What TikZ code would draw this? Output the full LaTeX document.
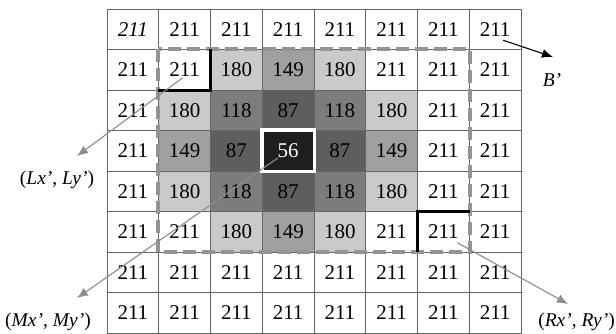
\documentclass[tikz,border=0pt]{standalone}
\usepackage{fontspec}
\setmainfont{Liberation Serif}
\usetikzlibrary{arrows.meta}
\definecolor{g211}{RGB}{255,255,255}
\definecolor{g180}{RGB}{202,202,202}
\definecolor{g149}{RGB}{160,160,160}
\definecolor{g118}{RGB}{124,124,124}
\definecolor{g87}{RGB}{94,94,94}
\definecolor{g56}{RGB}{30,30,30}
\definecolor{pointer}{RGB}{140,140,140}

\begin{document}
\begin{tikzpicture}[x=1pt, y=-1pt,
    cell/.style={draw=black!60, line width=0.9pt, minimum width=51.75pt, minimum height=40.5pt, inner sep=0pt, font=\fontsize{21}{23}\selectfont},
    hl00/.style={font=\fontsize{21}{23}\selectfont\itshape},
    hl33/.style={text=white},
    window/.style={draw=black!42, line width=4pt, dash pattern=on 13pt off 6pt},
    corner/.style={draw=black, line width=3pt},
    tag/.style={inner sep=0pt, font=\fontsize{19.5}{21}\selectfont},
    pointer/.style={draw=pointer, line width=1.1pt, -{Latex[length=11pt,width=9pt]}}]
    \useasboundingbox (0,0) rectangle (616,333);

    % image block
    \foreach \vals [count=\r from 0] in {
        {211,211,211,211,211,211,211,211},
        {211,211,180,149,180,211,211,211},
        {211,180,118,87,118,180,211,211},
        {211,149,87,56,87,149,211,211},
        {211,180,118,87,118,180,211,211},
        {211,211,180,149,180,211,211,211},
        {211,211,211,211,211,211,211,211},
        {211,211,211,211,211,211,211,211}}{
        \foreach \v [count=\c from 0] in \vals
            \node[cell, fill=g\v, hl\r\c/.try] (c\r\c) at ({107+51.75*(\c+0.5)}, {9+40.5*(\r+0.5)}) {\v};
    }
    \draw[white, line width=3.5pt] (c33.north west) rectangle (c33.south east);
    \draw[window] (c11.north west) rectangle (c56.south east);
    \draw[corner] (c11.north east) -- (c11.south east) -- (c11.south west);
    \draw[corner] (c56.north east) -- (c56.north west) -- (c56.south west);

    % labels
    \node[tag] (bprime) at (552,80) {\textit{B’}};
    \node[tag] (lpt) at (57,180) {(\textit{Lx’}, \textit{Ly’})};
    \node[tag] (mpt) at (48,322) {(\textit{Mx’}, \textit{My’})};
    \node[tag, anchor=east] (rpt) at (615,322) {(\textit{Rx’}, \textit{Ry’})};

    \coordinate (btail) at ([shift={(8,11)}]c07.center);
    \coordinate (ltail) at ([shift={(-2,8)}]c11.center);
    \coordinate (mtail) at ([shift={(-10,7)}]c33.center);
    \coordinate (rtail) at ([shift={(14,11)}]c56.center);
    \coordinate (btip) at (553,57);
    \coordinate (ltip) at (77,156);
    \coordinate (mtip) at (77,298);
    \coordinate (rtip) at (568,304);

    \draw[pointer, draw=black] (btail) -- (btip);
    \draw[pointer] (ltail) -- (ltip);
    \draw[pointer] (mtail) -- (mtip);
    \draw[pointer] (rtail) -- (rtip);
\end{tikzpicture}
\end{document}
